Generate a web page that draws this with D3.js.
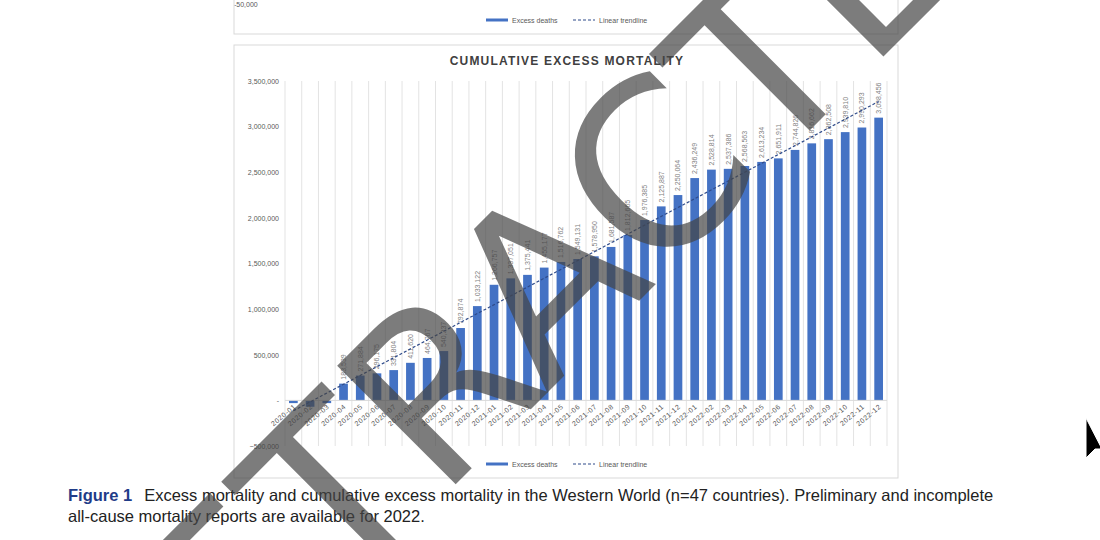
<!DOCTYPE html>
<html><head><meta charset="utf-8">
<script src="https://cdn.jsdelivr.net/npm/d3@7"></script>
<style>body{margin:0;background:#fff}svg{display:block}</style>
</head><body>
<script>
const months = ["2020-01","2020-02","2020-03","2020-04","2020-05","2020-06","2020-07","2020-08","2020-09","2020-10","2020-11","2020-12",
  "2021-01","2021-02","2021-03","2021-04","2021-05","2021-06","2021-07","2021-08","2021-09","2021-10","2021-11","2021-12",
  "2022-01","2022-02","2022-03","2022-04","2022-05","2022-06","2022-07","2022-08","2022-09","2022-10","2022-11","2022-12"];
const cumulative = [-30000,-70000,-30000,183539,271884,296175,331804,411620,464767,540337,792874,1033122,
  1266757,1337051,1375441,1455177,1516762,1549131,1578950,1681587,1812665,1976385,2125887,2250064,
  2436249,2528814,2537386,2568563,2613234,2651911,2744826,2816662,2862508,2939810,2990293,3098456];
const yTicks = [-500000,0,500000,1000000,1500000,2000000,2500000,3000000,3500000];
const labelFrom = 3; // first three months have no readable label

const W = 1100, H = 540;
const svg = d3.select("body").append("svg").attr("width", W).attr("height", H);

// fragment of the chart above
svg.append("text").attr("x", 234).attr("y", 7).attr("font-family", "Liberation Sans").attr("font-size", 7).attr("fill", "#595959").text("-50,000");
svg.append("rect").attr("x", 234).attr("y", -10).attr("width", 664).attr("height", 44).attr("fill", "none").attr("stroke", "#d9d9d9");
function legend(y) {
  const g = svg.append("g").attr("font-family", "Liberation Sans").attr("font-size", 7).attr("fill", "#595959");
  g.append("line").attr("x1", 486).attr("x2", 508).attr("y1", y).attr("y2", y).attr("stroke", "#4472c4").attr("stroke-width", 3);
  g.append("text").attr("x", 512).attr("y", y + 2.5).text("Excess deaths");
  g.append("line").attr("x1", 573).attr("x2", 595).attr("y1", y).attr("y2", y).attr("stroke", "#2f4b8a").attr("stroke-width", 1.2).attr("stroke-dasharray", "3,2");
  g.append("text").attr("x", 599).attr("y", y + 2.5).text("Linear trendline");
}
legend(20);

// main panel
svg.append("rect").attr("x", 234).attr("y", 45).attr("width", 664).attr("height", 433).attr("fill", "none").attr("stroke", "#d9d9d9");
svg.append("text").attr("x", 567).attr("y", 65).attr("text-anchor", "middle").attr("font-family", "Liberation Sans").attr("font-weight", "bold")
  .attr("font-size", 12).attr("letter-spacing", 1.2).attr("fill", "#404040").text("CUMULATIVE EXCESS MORTALITY");

const x = d3.scaleBand().domain(months).range([285, 887]).paddingInner(0.48).paddingOuter(0.24);
const y = d3.scaleLinear().domain([-500000, 3500000]).range([446, 81]);

// vertical gridlines at band boundaries
const bounds = d3.range(months.length + 1).map(i => 285 + i * (602 / months.length));
svg.append("g").selectAll("line").data(bounds).join("line")
  .attr("x1", d => d).attr("x2", d => d).attr("y1", y(3500000)).attr("y2", y(-500000)).attr("stroke", "#e3e3e3");

svg.append("g").attr("transform", "translate(282,0)")
  .call(d3.axisLeft(y).tickValues(yTicks).tickSize(0).tickFormat(d => d === 0 ? "-" : d3.format(",")(d)))
  .call(g => g.select(".domain").remove())
  .call(g => g.selectAll("text").attr("font-family", "Liberation Sans").attr("font-size", 7).attr("fill", "#595959"));

svg.append("g").selectAll("rect").data(months).join("rect")
  .attr("x", d => x(d)).attr("width", x.bandwidth())
  .attr("y", (d, i) => y(Math.max(0, cumulative[i])))
  .attr("height", (d, i) => Math.abs(y(cumulative[i]) - y(0)))
  .attr("fill", "#4472c4");

svg.append("line").attr("x1", 285).attr("x2", 887).attr("y1", y(0)).attr("y2", y(0)).attr("stroke", "#d9d9d9");

// value labels
svg.append("g").selectAll("text").data(months.slice(labelFrom)).join("text")
  .attr("transform", (d, i) => `translate(${x(d) + x.bandwidth() / 2 + 2.5},${y(cumulative[i + labelFrom]) - 4}) rotate(-90)`)
  .attr("font-family", "Liberation Sans").attr("font-size", 7).attr("fill", "#7f7f7f")
  .text((d, i) => d3.format(",")(cumulative[i + labelFrom]));

// month labels
svg.append("g").selectAll("text").data(months).join("text")
  .attr("transform", d => `translate(${x(d) + x.bandwidth() / 2 + 3},${y(0) + 7}) rotate(-40)`)
  .attr("text-anchor", "end").attr("font-family", "Liberation Sans").attr("font-size", 7).attr("letter-spacing", 0.6).attr("fill", "#595959")
  .text(d => d);

// linear trendline from the data
const xs = months.map((d, i) => i), n = xs.length;
const mx = d3.mean(xs), my = d3.mean(cumulative);
const slope = d3.sum(xs, i => (i - mx) * (cumulative[i] - my)) / d3.sum(xs, i => (i - mx) ** 2);
const icpt = my - slope * mx;
svg.append("path").datum([0, n - 1])
  .attr("d", d3.line().x(i => x(months[i]) + x.bandwidth() / 2).y(i => y(icpt + slope * i)))
  .attr("stroke", "#2f4b8a").attr("stroke-width", 1.2).attr("stroke-dasharray", "3,2").attr("fill", "none");

legend(464);

// caption
const cap = svg.append("g").attr("font-family", "Liberation Sans").attr("font-size", 16.5).attr("fill", "#222");
const t1 = cap.append("text").attr("x", 68).attr("y", 501);
t1.append("tspan").attr("font-weight", "bold").attr("fill", "#1f3c88").text("Figure 1");
t1.append("tspan").attr("dx", 12).text("Excess mortality and cumulative excess mortality in the Western World (n=47 countries). Preliminary and incomplete");
cap.append("text").attr("x", 68).attr("y", 522).text("all-cause mortality reports are available for 2022.");

// watermark
svg.append("text").attr("transform", "translate(610,330) rotate(-45)").attr("text-anchor", "middle")
  .attr("font-family", "DejaVu Sans").attr("font-size", 230).attr("fill", "#444").attr("fill-opacity", 0.7)
  .text("RETRACTED");

// cursor
svg.append("path").attr("d", "M1086,418 l0,40 l9,-9 l7,-0 z").attr("fill", "#000").attr("stroke", "#fff");
</script>
</body></html>
